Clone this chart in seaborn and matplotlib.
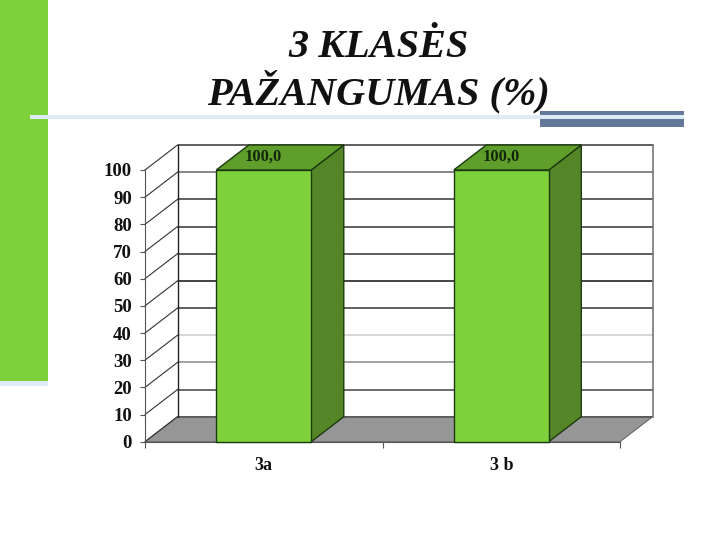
import matplotlib
matplotlib.use('Agg')
import matplotlib.pyplot as plt
from matplotlib.patches import Polygon, Rectangle
import seaborn as sns

classes = ['3a', '3 b']
values = [100.0, 100.0]
value_labels = ['100,0', '100,0']
y_ticks = [0, 10, 20, 30, 40, 50, 60, 70, 80, 90, 100]
title_lines = '3 KLASĖS\nPAŽANGUMAS (%)'

# colour of the back wall line for each tick, the image has them uneven
grid_colors = ['#555555', '#444444', '#8a8a8a', '#cccccc', '#333333', '#111111',
               '#333333', '#333333', '#333333', '#666666', '#333333']

GREEN = '#7fd13b'
GREEN_SIDE = '#548628'
GREEN_TOP = '#5f9e2b'
EDGE = '#1c3a10'
FLOOR = '#969696'

sns.set_theme(style='white')
plt.rcParams['font.family'] = ['Liberation Serif', 'DejaVu Serif']

fig = plt.figure(figsize=(7.2, 5.4), dpi=100, facecolor='white')
W, H = 720, 540


def px_rect(x0, y0, x1, y1, color, z=1):
    # rectangle given in image pixels, y going down
    fig.add_artist(Rectangle((x0 / W, 1 - y1 / H), (x1 - x0) / W, (y1 - y0) / H,
                             transform=fig.transFigure, facecolor=color,
                             edgecolor='none', zorder=z))


# slide decoration
px_rect(0, 0, 48, 381, GREEN)
px_rect(0, 381, 48, 386, '#dcebf5')
px_rect(540, 111, 684, 127, '#64799a')
px_rect(30, 115.5, 684, 119, '#dcebf5', z=2)

fig.text(378 / W, 1 - 71 / H, title_lines, ha='center', va='center', fontsize=29,
         style='italic', fontweight='bold', color='#111111', linespacing=1.1, zorder=5)

ax = fig.add_axes([145 / W, 1 - 441.7 / H, 475 / W, 271.7 / H])
sns.barplot(x=classes, y=values, ax=ax, color=GREEN, saturation=1, width=0.4,
            edgecolor=EDGE, linewidth=1, zorder=5)
ax.set_xlim(-0.5, 1.5)
ax.set_ylim(0, 100)
ax.patch.set_alpha(0)

# depth of the fake 3d box, in data units
dx = 0.137
dy = 9.2
x0, x1 = -0.5, 1.5

ax.add_patch(Polygon([(x0, 0), (x1, 0), (x1 + dx, dy), (x0 + dx, dy)], closed=True,
                     facecolor=FLOOR, edgecolor='#666666', lw=0.8, clip_on=False, zorder=1))
for t, c in zip(y_ticks, grid_colors):
    ax.plot([x0 + dx, x1 + dx], [t + dy, t + dy], color=c, lw=1.1, clip_on=False, zorder=2)
    ax.plot([x0, x0 + dx], [t, t + dy], color='#333333', lw=0.8, clip_on=False, zorder=2)
ax.plot([x0 + dx, x0 + dx], [dy, 100 + dy], color='#222222', lw=1, clip_on=False, zorder=2)
ax.plot([x1 + dx, x1 + dx], [dy, 100 + dy], color='#777777', lw=1.2, clip_on=False, zorder=2)
ax.plot([x0, x0], [0, 100], color='#555555', lw=0.8, clip_on=False, zorder=2)

# side and top faces from the bars seaborn drew
for bar, label in zip(ax.patches, value_labels):
    left = bar.get_x()
    right = left + bar.get_width()
    top = bar.get_height()
    bar.set_clip_on(False)
    ax.add_patch(Polygon([(right, 0), (right + dx, dy), (right + dx, top + dy), (right, top)],
                         closed=True, facecolor=GREEN_SIDE, edgecolor=EDGE, lw=1,
                         clip_on=False, zorder=4))
    ax.add_patch(Polygon([(left, top), (left + dx, top + dy), (right + dx, top + dy), (right, top)],
                         closed=True, facecolor=GREEN_TOP, edgecolor=EDGE, lw=1,
                         clip_on=False, zorder=4))
    ax.text((left + right) / 2, top + 4.7, label, ha='center', va='center', fontsize=12,
            fontweight='bold', color='#13260a', zorder=6)

for s in ax.spines.values():
    s.set_visible(False)
ax.set_yticks(y_ticks)
ax.set_yticklabels([str(t) for t in y_ticks], fontsize=13.5, fontweight='bold', color='#111111')
ax.set_xticks([x0, 0.5, x1], minor=True)
ax.tick_params(axis='x', which='minor', bottom=True, length=4.5, width=0.8, color='#555555')
ax.tick_params(axis='x', which='major', bottom=False, labelsize=13, pad=5, labelcolor='#111111')
for lab in ax.get_xticklabels():
    lab.set_fontweight('bold')
ax.tick_params(axis='y', left=True, length=3.5, width=0.8, color='#555555', pad=6)
ax.set_xlabel('')
ax.set_ylabel('')
ax.plot([x0, x1], [0, 0], color='#555555', lw=0.8, clip_on=False, zorder=3)

fig.savefig('out.png', dpi=100)
